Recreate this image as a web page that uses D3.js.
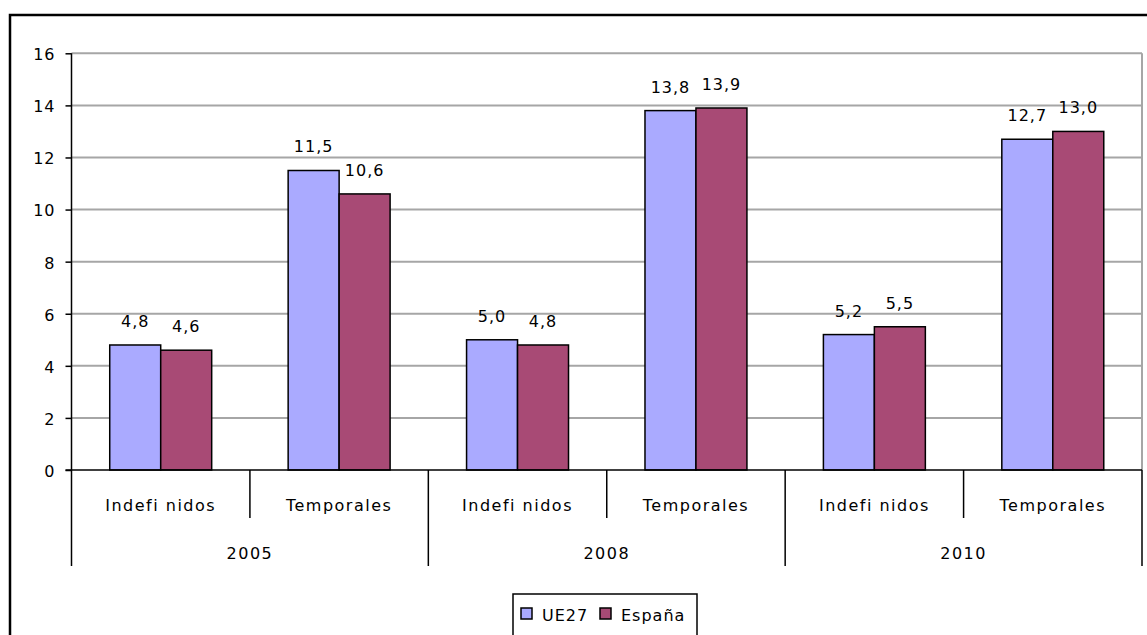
<!DOCTYPE html>
<html>
<head>
<meta charset="utf-8">
<script src="https://cdn.jsdelivr.net/npm/d3@7"></script>
<style>
body { margin: 0; background: #fff; }
svg text { font-family: "DejaVu Sans", Verdana, sans-serif; font-size: 16px; fill: #000; letter-spacing: 1px; }
</style>
</head>
<body>
<svg id="chart" width="1147" height="635"></svg>
<script>
var years = ["2005", "2008", "2010"];
var types = ["Indefi nidos", "Temporales"];
var series = ["UE27", "España"];
var ue27 = [4.8, 11.5, 5.0, 13.8, 5.2, 12.7];
var espana = [4.6, 10.6, 4.8, 13.9, 5.5, 13.0];
var yTicks = [0, 2, 4, 6, 8, 10, 12, 14, 16];
var colors = ["#aaaaff", "#a84a75"];

var svg = d3.select("#chart");
//plot area edges (window.top is read-only, so not called "top")
var plotLeft = 71.5, plotRight = 1142, plotTop = 53.3, plotBottom = 470;

//one entry per category slot (year x contract type)
var cats = [];
years.forEach(function(yr) {
    types.forEach(function(t) { cats.push({ key: yr + "|" + t, year: yr, type: t }); });
});
cats.forEach(function(c, i) { c.values = [ue27[i], espana[i]]; });

var x0 = d3.scaleBand().domain(cats.map(c => c.key)).range([plotLeft, plotRight]);
var x1 = d3.scaleBand().domain(series).range([0, x0.bandwidth()]).paddingInner(0).paddingOuter(0.75);
var y = d3.scaleLinear().domain([0, 16]).range([plotBottom, plotTop]);
var color = d3.scaleOrdinal().domain(series).range(colors);
var fmt = d3.format(".1f");

//outer frame
svg.append("path")
    .attr("d", "M10,640V15H1150")
    .attr("fill", "none")
    .attr("stroke", "#000")
    .attr("stroke-width", 2.5);

//gridlines
svg.append("g")
    .selectAll("line")
    .data(yTicks.filter(t => t > 0))
    .join("line")
    .attr("x1", plotLeft).attr("x2", plotRight)
    .attr("y1", d => y(d)).attr("y2", d => y(d))
    .attr("stroke", "#a6a6a6")
    .attr("stroke-width", 2);
svg.append("line")
    .attr("x1", plotRight).attr("x2", plotRight)
    .attr("y1", plotTop).attr("y2", plotBottom)
    .attr("stroke", "#a6a6a6")
    .attr("stroke-width", 2);

//y axis
var yAxis = svg.append("g")
    .attr("transform", "translate(" + plotLeft + ",0)")
    .call(d3.axisLeft(y).tickValues(yTicks).tickSize(6).tickPadding(10).tickFormat(d3.format("d")));
yAxis.select(".domain").attr("stroke", "#000").attr("stroke-width", 1.5).attr("d", "M0," + plotTop + "V" + plotBottom);
yAxis.selectAll(".tick line").attr("stroke", "#000").attr("stroke-width", 1.5);
yAxis.selectAll("text").attr("dy", "0.4em");
yAxis.attr("font-size", null).attr("font-family", null);

//bars
var groups = svg.append("g")
    .selectAll("g")
    .data(cats)
    .join("g")
    .attr("transform", d => "translate(" + x0(d.key) + ",0)");

groups.selectAll("rect")
    .data(d => d.values.map((v, i) => ({ s: series[i], v: v })))
    .join("rect")
    .attr("x", d => x1(d.s))
    .attr("y", d => y(d.v))
    .attr("width", x1.bandwidth())
    .attr("height", d => y(0) - y(d.v))
    .attr("fill", d => color(d.s))
    .attr("stroke", "#000")
    .attr("stroke-width", 1.5);

groups.selectAll("text.val")
    .data(d => d.values.map((v, i) => ({ s: series[i], v: v })))
    .join("text")
    .attr("class", "val")
    .attr("x", d => x1(d.s) + x1.bandwidth() / 2)
    .attr("y", d => y(d.v) - 18)
    .attr("text-anchor", "middle")
    .text(d => fmt(d.v).replace(".", ","));

//category axis
svg.append("line")
    .attr("x1", plotLeft - 6).attr("x2", plotRight)
    .attr("y1", plotBottom).attr("y2", plotBottom)
    .attr("stroke", "#000").attr("stroke-width", 1.5);

var seps = svg.append("g");
cats.forEach(function(c, i) {
    var xs = x0(c.key);
    seps.append("line")
        .attr("x1", xs).attr("x2", xs)
        .attr("y1", plotBottom).attr("y2", i % 2 === 0 ? 566 : 518)
        .attr("stroke", "#000").attr("stroke-width", 1.5);
});
seps.append("line")
    .attr("x1", plotRight).attr("x2", plotRight)
    .attr("y1", plotBottom).attr("y2", 566)
    .attr("stroke", "#000").attr("stroke-width", 1.5);

svg.append("g")
    .selectAll("text")
    .data(cats)
    .join("text")
    .attr("x", d => x0(d.key) + x0.bandwidth() / 2)
    .attr("y", 511)
    .attr("text-anchor", "middle")
    .style("letter-spacing", "1.5px")
    .text(d => d.type);

svg.append("g")
    .selectAll("text")
    .data(years)
    .join("text")
    .attr("x", d => x0(d + "|" + types[0]) + x0.bandwidth())
    .attr("y", 559)
    .attr("text-anchor", "middle")
    .style("letter-spacing", "1.5px")
    .text(d => d);

//legend
var legend = svg.append("g");
legend.append("rect")
    .attr("x", 513).attr("y", 594)
    .attr("width", 184).attr("height", 60)
    .attr("fill", "#fff")
    .attr("stroke", "#000").attr("stroke-width", 1.5);
var lx = [521, 600];
series.forEach(function(s, i) {
    legend.append("rect")
        .attr("x", lx[i]).attr("y", 608)
        .attr("width", 11).attr("height", 11)
        .attr("fill", color(s))
        .attr("stroke", "#000").attr("stroke-width", 1.5);
    legend.append("text")
        .attr("x", lx[i] + 21).attr("y", 621)
        .style("letter-spacing", "1px")
        .text(s);
});
</script>
</body>
</html>
